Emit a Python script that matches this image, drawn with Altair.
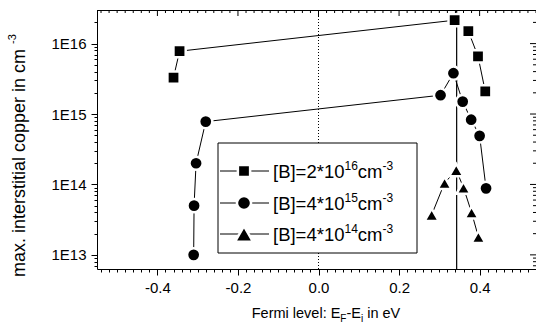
import altair as alt
import pandas as pd
import math

# ---------------- data ----------------
sq_x = [-0.360, -0.345, 0.338, 0.372, 0.396, 0.414]
sq_y = [3.3e15, 7.8e15, 2.15e16, 1.5e16, 6.6e15, 2.1e15]
ci_x = [-0.310, -0.309, -0.304, -0.280, 0.303, 0.335, 0.358, 0.379, 0.400, 0.416]
ci_y = [1.0e13, 5.0e13, 2.0e14, 7.8e14, 1.85e15, 3.8e15, 1.5e15, 8.3e14, 4.9e14, 8.8e13]
tr_x = [0.281, 0.313, 0.342, 0.360, 0.380, 0.397]
tr_y = [3.7e13, 1.05e14, 1.6e14, 9.0e13, 4.0e13, 1.8e13]
series = ["s16", "s15", "s14"]
legend_exp = ["16", "15", "14"]
legend_mant = ["2", "4", "4"]
vlines_dotted = [0.0]
vlines_solid = [0.343]
x_ticks = [round(k * 0.02, 2) for k in range(-27, 28)]
y_ticks = [float(m * 10 ** k) for k in range(12, 17) for m in range(1, 10)
           if 6.3e12 <= m * 10 ** k <= 2.9e16]

FONT = "Liberation Sans"
W, H = 439, 259
XDOM = [-0.55, 0.54]
YDOM = [6.3e12, 3.0e16]

CW = {' ': 278, '[': 278, ']': 278, 'B': 667, '=': 584, '*': 389, 'c': 500, 'm': 833,
      '-': 333, 'E': 667, 'F': 611, 'i': 222, 'n': 556, 'e': 556, 'V': 667, 'r': 333,
      'l': 222, 'v': 500, ':': 278, 'a': 556, 'x': 500, '.': 278, 's': 500, 't': 278,
      'o': 556, 'p': 556}
def tw(s, fs):
    return sum(CW.get(c, 556) for c in s) * fs / 1000.0

rows = []
for sname, xs, ys in [("s16", sq_x, sq_y), ("s15", ci_x, ci_y), ("s14", tr_x, tr_y)]:
    for i, (a, b) in enumerate(zip(xs, ys)):
        rows.append({"x": a, "y": b, "series": sname, "order": i})
df = pd.DataFrame(rows)

xscale = alt.Scale(domain=XDOM, nice=False, zero=False)
yscale = alt.Scale(type="log", domain=YDOM, nice=False)

major_x = "abs(datum.value*5 - round(datum.value*5)) < 0.001"
major_y = "abs(log(datum.value)/LN10 - round(log(datum.value)/LN10)) < 0.001"

xaxis = alt.Axis(values=x_ticks, grid=False, labelOverlap=False, labelFlush=False,
                 labelBound=False,
                 labelExpr=f"{major_x} ? (datum.value < -0.001 ? '-' : '') + format(abs(datum.value), '.1f') : ''",
                 tickSize={"condition": {"test": major_x, "value": 6}, "value": 3},
                 domainColor="black", tickColor="black", labelColor="black",
                 labelFont=FONT, labelFontSize=15, labelPadding=5, title=None)
yaxis = alt.Axis(values=y_ticks, grid=False, labelOverlap=False, labelFlush=False,
                 labelBound=False,
                 labelExpr=f"{major_y} ? '1E' + round(log(datum.value)/LN10) : ''",
                 tickSize={"condition": {"test": major_y, "value": 6}, "value": 3},
                 domainColor="black", tickColor="black", labelColor="black",
                 labelFont=FONT, labelFontSize=15, labelPadding=5, title=None)

X = alt.X("x:Q", scale=xscale, axis=xaxis)
Y = alt.Y("y:Q", scale=yscale, axis=yaxis)

vd = alt.Chart(pd.DataFrame({"x": vlines_dotted})).mark_rule(
    color="black", strokeWidth=1, strokeDash=[1, 2]).encode(x=X)
vs = alt.Chart(pd.DataFrame({"x": vlines_solid})).mark_rule(
    color="black", strokeWidth=1.2).encode(x=X)

lines = alt.Chart(df).mark_line(color="black", strokeWidth=1).encode(
    x=X, y=Y, detail="series:N", order="order:Q")
shapes = ["square", "circle", "triangle-up"]
sizes = [150, 200, 330]
shape_scale = alt.Scale(domain=series, range=shapes)
size_scale = alt.Scale(domain=series, range=sizes)
points = alt.Chart(df).mark_point(filled=True, fill="black", stroke="white",
                                  strokeWidth=2.5, opacity=1).encode(
    x=X, y=Y,
    shape=alt.Shape("series:N", scale=shape_scale, legend=None),
    size=alt.Size("series:N", scale=size_scale, legend=None))

# mirror ticks (top and right), inward
xt = pd.DataFrame({"x": x_ticks})
xt["major"] = [abs(v * 5 - round(v * 5)) < 0.001 for v in x_ticks]
top_minor = alt.Chart(xt[~xt.major]).mark_rule(color="black").encode(
    x=X, y=alt.value(0), y2=alt.value(3))
top_major = alt.Chart(xt[xt.major]).mark_rule(color="black").encode(
    x=X, y=alt.value(0), y2=alt.value(6))
yt = pd.DataFrame({"y": y_ticks})
yt["major"] = [abs(math.log10(v) - round(math.log10(v))) < 0.001 for v in y_ticks]
right_minor = alt.Chart(yt[~yt.major]).mark_rule(color="black").encode(
    y=Y, x=alt.value(W - 3), x2=alt.value(W))
right_major = alt.Chart(yt[yt.major]).mark_rule(color="black").encode(
    y=Y, x=alt.value(W - 6), x2=alt.value(W))
one = pd.DataFrame({"a": [0]})
top_border = alt.Chart(one).mark_rule(color="black", strokeWidth=1).encode(
    x=alt.value(0), x2=alt.value(W), y=alt.value(0.5))

def text_run(pieces, x0, base):
    """pieces: (text, fontsize, dy); leading spaces become offsets (SVG collapses them)."""
    out = []
    for txt, fs, dy in pieces:
        stripped = txt.lstrip(" ")
        x0 += tw(txt[:len(txt) - len(stripped)], fs)
        out.append(alt.Chart(one).mark_text(
            text=stripped, font=FONT, fontSize=fs, align="left", baseline="alphabetic",
            color="black").encode(x=alt.value(x0), y=alt.value(base + dy)))
        x0 += tw(stripped, fs)
    return out

# ---------------- legend (custom, with superscripts) ----------------
LX0, LX1, LY0, LY1 = 121, 320, 133, 243
row_y = [161, 193, 224]
LFS, SFS = 18.5, 12
layers_leg = [alt.Chart(one).mark_rect(fill="white", stroke="black", strokeWidth=1).encode(
    x=alt.value(LX0), x2=alt.value(LX1), y=alt.value(LY0), y2=alt.value(LY1))]
for i in range(3):
    ry = row_y[i]
    layers_leg.append(alt.Chart(one).mark_rule(color="black", strokeWidth=1).encode(
        x=alt.value(123), x2=alt.value(172), y=alt.value(ry)))
    layers_leg.append(alt.Chart(one).mark_point(
        filled=True, fill="black", stroke="white", strokeWidth=2.5, opacity=1,
        shape=shapes[i], size=sizes[i]).encode(x=alt.value(147), y=alt.value(ry)))
    main = f"[B]={legend_mant[i]}*10"
    pieces = [(main, LFS, 0), (legend_exp[i], SFS, -8), ("cm", LFS, 0), ("-3", SFS, -8)]
    layers_leg += text_run(pieces, 176, ry + 6.5)

# ---------------- axis titles ----------------
TFS, TSS = 14.5, 10
xt_pieces = [("Fermi level: E", TFS, 0), ("F", TSS, 4), ("-E", TFS, 0), ("i", TSS, 4), (" in eV", TFS, 0)]
total = sum(tw(t, f) for t, f, _ in xt_pieces)
title_layers = text_run(xt_pieces, 229 - total / 2, 308)

YFS, YSS = 18, 11
ymain = "max. interstitial copper  in cm"
yx, yy = -72, 267
title_layers.append(alt.Chart(one).mark_text(
    text=ymain, font=FONT, fontSize=YFS, align="left", baseline="alphabetic", angle=270,
    color="black").encode(x=alt.value(yx), y=alt.value(yy)))
title_layers.append(alt.Chart(one).mark_text(
    text="-3", font=FONT, fontSize=YSS, align="left", baseline="alphabetic", angle=270,
    color="black").encode(x=alt.value(yx - 9), y=alt.value(yy - tw(ymain, YFS))))

chart = alt.layer(
    vd, vs, lines, points, top_minor, top_major, right_minor, right_major, top_border,
    *layers_leg, *title_layers
).properties(
    width=W, height=H,
    autosize=alt.AutoSizeParams(type="none"),
    padding={"left": 97, "top": 10, "right": 0, "bottom": 60},
).configure_view(stroke=None).configure_axis(domainWidth=1, tickWidth=1)

chart.save("out.html", embed_options={"renderer": "svg", "actions": False})
